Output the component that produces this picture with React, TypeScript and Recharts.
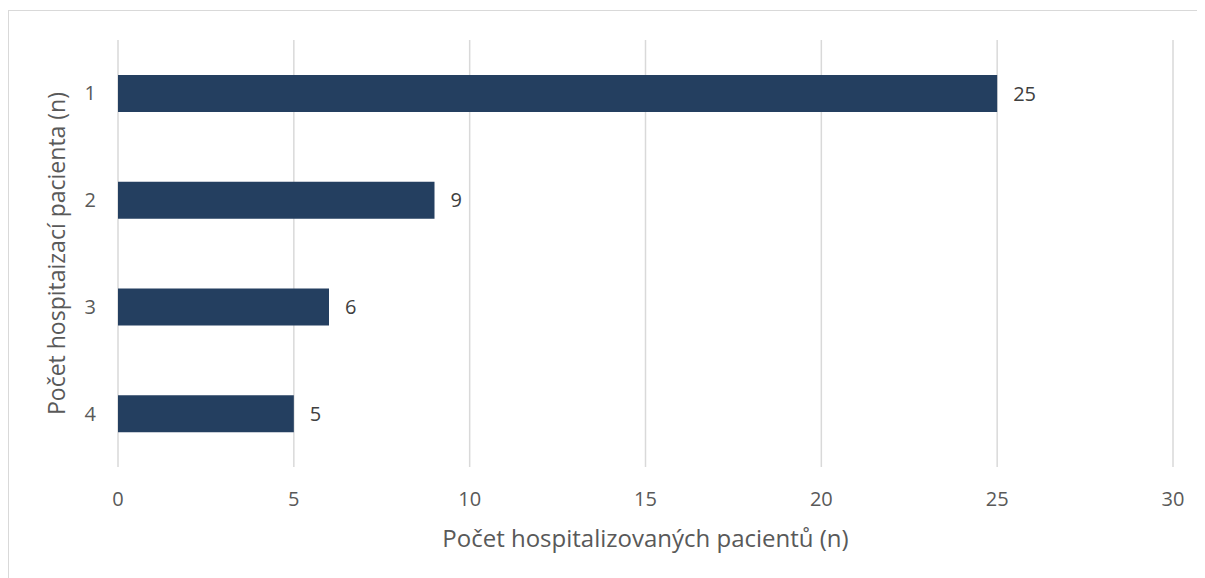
import React from "react";
import {
  BarChart,
  Bar,
  XAxis,
  YAxis,
  CartesianGrid,
  LabelList
} from "recharts";

const categories = ["1", "2", "3", "4"];
const patients = [25, 9, 6, 5];
const xTicks = [0, 5, 10, 15, 20, 25, 30];

const xTitle = "Počet hospitalizovaných pacientů (n)";
const yTitle = "Počet hospitaizací pacienta (n)";

const data = categories.map((c, i) => ({ cat: c, value: patients[i] }));

const FONT = "'Open Sans', sans-serif";

const YTitle = (props: any) => {
  const vb = props.viewBox || {};
  const cy = vb.y + vb.height / 2;
  const cx = 56;
  return (
    <text
      x={cx}
      y={cy}
      transform={`rotate(-90, ${cx}, ${cy})`}
      textAnchor="middle"
      fill="#595959"
      fontSize={23}
      fontFamily={FONT}
    >
      {yTitle}
    </text>
  );
};

export default function App() {
  return (
    <div
      style={{
        marginTop: 2,
        width: 1197,
        height: 568,
        borderTop: "1px solid #d9d9d9",
        borderLeft: "1px solid #d9d9d9",
        fontFamily: FONT
      }}
    >
      <BarChart
        width={1196}
        height={567}
        data={data}
        layout="vertical"
        margin={{ top: 29, right: 32, bottom: 0, left: 9 }}
      >
        <CartesianGrid
          horizontal={false}
          stroke="#d9d9d9"
          strokeWidth={1.5}
        />
        <XAxis
          type="number"
          domain={[0, 30]}
          ticks={xTicks}
          axisLine={false}
          tickLine={false}
          tickSize={0}
          tickMargin={25}
          height={111}
          tick={{ fill: "#595959", fontSize: 20, fontFamily: FONT }}
          label={{
            value: xTitle,
            position: "insideBottom",
            offset: 31,
            fill: "#595959",
            fontSize: 24,
            fontFamily: FONT
          }}
        />
        <YAxis
          type="category"
          dataKey="cat"
          width={100}
          axisLine={false}
          tickLine={false}
          tickSize={0}
          tickMargin={22}
          tick={{ fill: "#595959", fontSize: 20, fontFamily: FONT }}
          label={{ content: YTitle }}
        />
        <Bar
          dataKey="value"
          fill="#243f60"
          barSize={37}
          isAnimationActive={false}
        >
          <LabelList
            dataKey="value"
            position="right"
            offset={16}
            fill="#404040"
            fontSize={20}
            fontFamily={FONT}
          />
        </Bar>
      </BarChart>
    </div>
  );
}
